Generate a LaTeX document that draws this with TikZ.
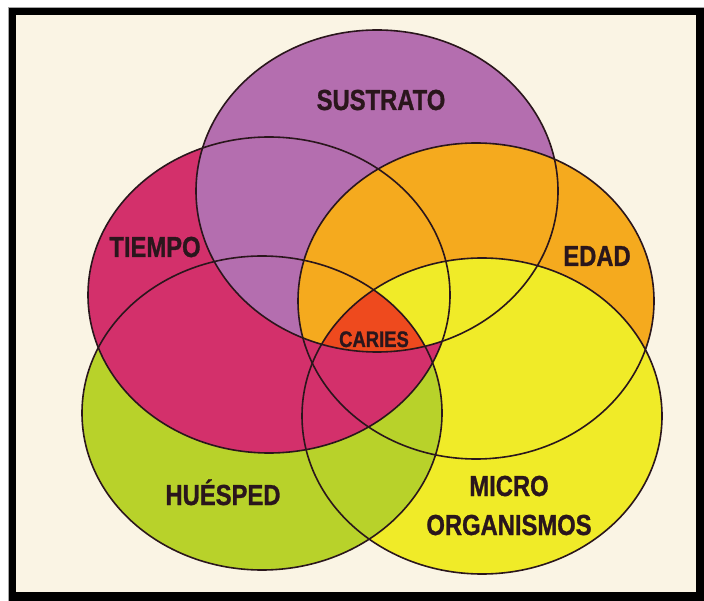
\documentclass[tikz,border=0pt]{standalone}
\usepackage{fontspec}
\newfontfamily\lblfont[FakeStretch=0.82, FakeBold=1]{Liberation Sans}

\definecolor{paper}{HTML}{FAF4E4}
\definecolor{cSus}{HTML}{B46EAF}
\definecolor{cTie}{HTML}{D3306B}
\definecolor{cEda}{HTML}{F5AA1E}
\definecolor{cMic}{HTML}{F0EB28}
\definecolor{cHue}{HTML}{B8D22A}
\definecolor{cCar}{HTML}{EE4A1E}
\definecolor{ink}{HTML}{2A161C}

% the five ellipses (centre, radii)
\newcommand{\ellSus}{(377,191) ellipse [x radius=181pt, y radius=161pt]}
\newcommand{\ellTie}{(269,295) ellipse [x radius=181pt, y radius=158pt]}
\newcommand{\ellEda}{(476,301) ellipse [x radius=178pt, y radius=158pt]}
\newcommand{\ellMic}{(482,416) ellipse [x radius=180pt, y radius=158pt]}
\newcommand{\ellHue}{(262,413) ellipse [x radius=180pt, y radius=157pt]}

\begin{document}
\begin{tikzpicture}[x=1pt, y=-1pt,
  lbl/.style={text=ink, inner sep=0pt, anchor=base,
    font=\lblfont\bfseries\fontsize{29}{39}\selectfont, align=center},
  outline/.style={draw=ink, line width=1.6pt}]
\useasboundingbox (0,0) rectangle (704,601);

% frame
\fill[white] (0,0) rectangle (704,601);
\draw[gray!70, line width=0.8pt] (8.5,601) -- (8.5,7.5) -- (704,7.5);
\fill[black] (9,8) rectangle (704,601);
\fill[paper] (16,15) rectangle (696,592);

% base fills, each one over the previous
\fill[cSus] \ellSus;
\fill[cEda] \ellEda;
\fill[cMic] \ellMic;
\fill[cHue] \ellHue;
\fill[cTie] \ellTie;

% where substrate and time overlap, the substrate side stays on top
\begin{scope}
  \clip \ellSus;
  \clip \ellTie;
  \fill[cSus] \ellSus;
  \begin{scope}
    \clip \ellEda;
    \fill[cEda] \ellEda;
    \clip \ellMic;
    \fill[cMic] \ellMic;
  \end{scope}
\end{scope}

% common region of all five
\begin{scope}
  \clip \ellSus;
  \clip \ellTie;
  \clip \ellEda;
  \clip \ellMic;
  \clip \ellHue;
  \fill[cCar] (0,0) rectangle (704,601);
\end{scope}

% outlines
\draw[outline] \ellSus;
\draw[outline] \ellTie;
\draw[outline] \ellEda;
\draw[outline] \ellMic;
\draw[outline] \ellHue;

% labels
\node[lbl] (sus) at (381,110) {SUSTRATO};
\node[lbl] (tie) at (155,257) {TIEMPO};
\node[lbl] (eda) at (597,266) {EDAD};
\node[lbl, font=\lblfont\bfseries\fontsize{22.5}{26}\selectfont] (car) at (374,347) {CARIES};
\node[lbl] (hue) at (223,505) {HUÉSPED};
\node[lbl] (mic) at (509,535) {MICRO\\ORGANISMOS};
\end{tikzpicture}
\end{document}
